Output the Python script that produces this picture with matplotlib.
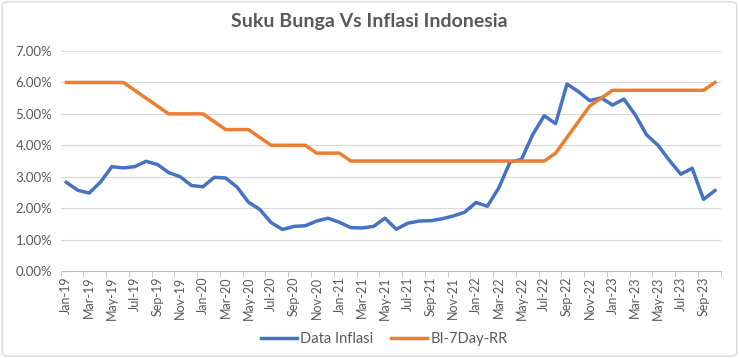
import numpy as np
import matplotlib
matplotlib.use("Agg")
import matplotlib.pyplot as plt
from matplotlib.patches import FancyBboxPatch
from matplotlib.ticker import FuncFormatter, FixedLocator

months = ["Jan", "Feb", "Mar", "Apr", "May", "Jun",
          "Jul", "Aug", "Sep", "Oct", "Nov", "Dec"]
periods = [f"{m}-{y}" for y in ["19", "20", "21", "22", "23"] for m in months][:58]

inflasi = [2.82, 2.57, 2.48, 2.83, 3.32, 3.28, 3.32, 3.49, 3.39, 3.13, 3.00, 2.72,
           2.68, 2.98, 2.96, 2.67, 2.19, 1.96, 1.54, 1.32, 1.42, 1.44, 1.59, 1.68,
           1.55, 1.38, 1.37, 1.42, 1.68, 1.33, 1.52, 1.59, 1.60, 1.66, 1.75, 1.87,
           2.18, 2.06, 2.64, 3.47, 3.55, 4.35, 4.94, 4.69, 5.95, 5.71, 5.42, 5.51,
           5.28, 5.47, 4.97, 4.33, 4.00, 3.52, 3.08, 3.27, 2.28, 2.56]
bi_rate = [6.00, 6.00, 6.00, 6.00, 6.00, 6.00, 5.75, 5.50, 5.25, 5.00, 5.00, 5.00,
           5.00, 4.75, 4.50, 4.50, 4.50, 4.25, 4.00, 4.00, 4.00, 4.00, 3.75, 3.75,
           3.75, 3.50, 3.50, 3.50, 3.50, 3.50, 3.50, 3.50, 3.50, 3.50, 3.50, 3.50,
           3.50, 3.50, 3.50, 3.50, 3.50, 3.50, 3.50, 3.75, 4.25, 4.75, 5.25, 5.50,
           5.75, 5.75, 5.75, 5.75, 5.75, 5.75, 5.75, 5.75, 5.75, 6.00]

plt.rcParams["font.family"] = ["Lato", "DejaVu Sans"]
grey = "#595959"

fig = plt.figure(figsize=(7.39, 3.58), dpi=100)
ax = fig.add_axes([0.0821, 0.243, 0.893, 0.6145])

x = np.arange(len(periods))
ax.plot(x, inflasi, color="#4472C4", lw=2.5, label="Data Inflasi", solid_joinstyle="round")
ax.plot(x, bi_rate, color="#ED7D31", lw=2.5, label="BI-7Day-RR", solid_joinstyle="round")

ax.set_xlim(-0.5, len(periods) - 0.5)
ax.set_ylim(0, 7)
ax.set_yticks(np.arange(0, 8, 1))
ax.yaxis.set_major_formatter(FuncFormatter(lambda v, p: f"{v:.2f}%"))
ax.grid(axis="y", color="#d9d9d9", lw=0.8)
ax.set_axisbelow(True)

ax.set_xticks(x[::2])
ax.set_xticklabels(periods[::2], rotation=90, fontsize=9, color=grey)
ax.tick_params(axis="x", length=0, pad=4)
ax.xaxis.set_minor_locator(FixedLocator(np.arange(-0.5, len(periods), 2)))
ax.tick_params(axis="x", which="minor", length=4, color="#bfbfbf")
ax.tick_params(axis="y", length=0, labelsize=9.5, labelcolor=grey, pad=6)

for s in ["top", "right", "left"]:
    ax.spines[s].set_visible(False)
ax.spines["bottom"].set_color("#bfbfbf")

fig.text(0.5, 0.94, "Suku Bunga Vs Inflasi Indonesia", ha="center", va="center",
         fontsize=14, fontweight="bold", color=grey)
fig.legend(loc="center", bbox_to_anchor=(0.52, 0.052), ncol=2, frameon=False,
           fontsize=10.5, labelcolor=grey, handlelength=2.5, columnspacing=1.2,
           handletextpad=0.2)

fig.patches.append(FancyBboxPatch((0.003, 0.005), 0.994, 0.99,
                                  boxstyle="round,pad=0,rounding_size=0.01",
                                  transform=fig.transFigure, fill=False,
                                  edgecolor="#d9d9d9", lw=1))

fig.savefig("out.png", dpi=100)
